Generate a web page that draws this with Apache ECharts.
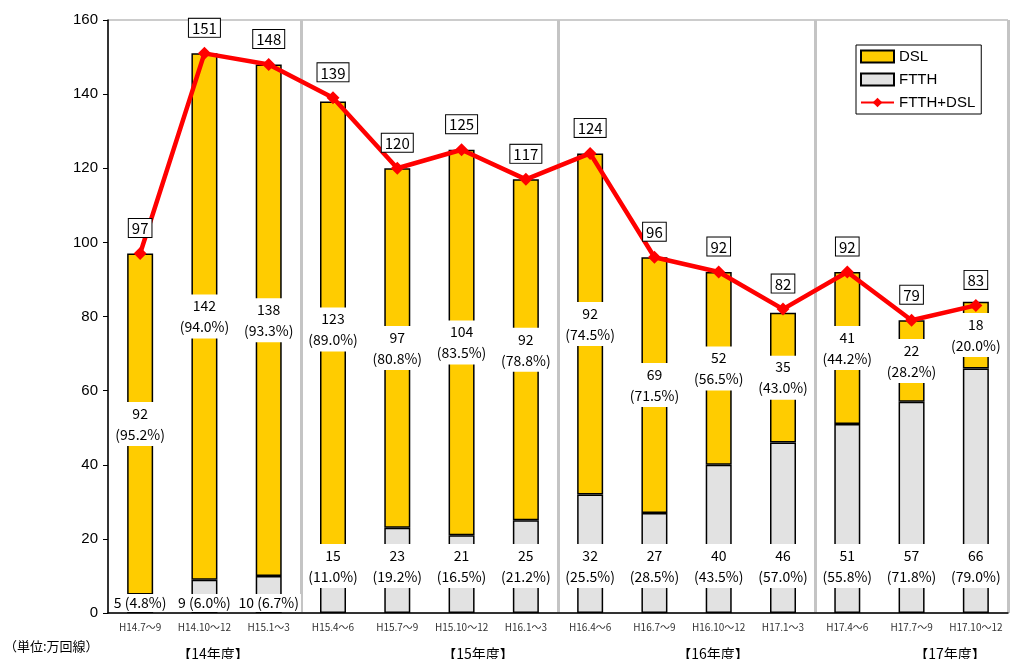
<!DOCTYPE html>
<html><head><meta charset="utf-8">
<script src="https://cdn.jsdelivr.net/npm/echarts@6/dist/echarts.min.js"></script>
<style>html,body{margin:0;padding:0;background:#fff}#c{width:1010px;height:659px}</style>
</head><body><div id="c"></div>
<script>
const categories = ['H14.7～9','H14.10～12','H15.1～3','H15.4～6','H15.7～9','H15.10～12','H16.1～3','H16.4～6','H16.7～9','H16.10～12','H17.1～3','H17.4～6','H17.7～9','H17.10～12'];
const ftth = [5,9,10,15,23,21,25,32,27,40,46,51,57,66];
const ftthPct = ['4.8','6.0','6.7','11.0','19.2','16.5','21.2','25.5','28.5','43.5','57.0','55.8','71.8','79.0'];
const dsl = [92,142,138,123,97,104,92,92,69,52,35,41,22,18];
const dslPct = ['95.2','94.0','93.3','89.0','80.8','83.5','78.8','74.5','71.5','56.5','43.0','44.2','28.2','20.0'];
const total = [97,151,148,139,120,125,117,124,96,92,82,92,79,83];
const yTicks = [0,20,40,60,80,100,120,140,160];
const fiscalYears = ['【14年度】','【15年度】','【16年度】','【17年度】'];
const unitNote = '（単位:万回線）';
const separatorBefore = [3,7,11];

const JP = '"Noto Sans CJK JP", sans-serif';
const chart = echarts.init(document.getElementById('c'));
const ftthData = ftth.map((v,i)=>{
  const single = v <= 12;
  return {value: v, label: single ? {position:'insideBottom', distance: 1, lineHeight: 16} : {position:'insideBottom', distance: 25}};
});
chart.setOption({
  animation:false,
  grid:{left:108,right:2,top:20,bottom:46,show:true,borderColor:'#999',borderWidth:1},
  legend:{
    orient:'vertical', left:856, top:45, itemWidth:33, itemHeight:12, itemGap:8,
    backgroundColor:'#fff', borderColor:'#000', borderWidth:1, padding:[4,6,4,4],
    textStyle:{fontFamily:'"Liberation Sans", Arial, sans-serif', fontSize:15, color:'#000'},
    data:[{name:'DSL',icon:'rect'},{name:'FTTH',icon:'rect'},{name:'FTTH+DSL'}]
  },
  xAxis:{
    type:'category', data:categories,
    axisLine:{lineStyle:{color:'#000',width:1.5}},
    axisTick:{inside:true,length:4,lineStyle:{color:'#000'}},
    axisLabel:{fontSize:10,color:'#333',margin:9,fontFamily:JP,interval:0},
    splitLine:{show:true,interval:(i)=>separatorBefore.includes(i),lineStyle:{color:'#c4c4c4',width:3}}
  },
  yAxis:{
    type:'value', min:0, max:160, interval:20,
    axisLine:{show:true,lineStyle:{color:'#000',width:1.5}},
    axisTick:{show:true,length:5,lineStyle:{color:'#000'}},
    axisLabel:{fontSize:15,color:'#000',margin:10,fontFamily:'"Liberation Sans", Arial, sans-serif',
      formatter:(v)=>yTicks.includes(v)?String(v):''},
    splitLine:{show:false}
  },
  series:[
    {name:'FTTH',type:'bar',stack:'a',barWidth:26,data:ftthData,
     itemStyle:{color:'#e2e2e2',borderColor:'#000',borderWidth:1.5},
     label:{show:true,color:'#000',fontFamily:JP,fontSize:14,lineHeight:21,backgroundColor:'#fff',padding:[1,2],
       formatter:(p)=>ftth[p.dataIndex] <= 12 ? ftth[p.dataIndex]+' ('+ftthPct[p.dataIndex]+'%)' : ftth[p.dataIndex]+'\n('+ftthPct[p.dataIndex]+'%)'}},
    {name:'DSL',type:'bar',stack:'a',barWidth:26,data:dsl,
     itemStyle:{color:'#ffcc00',borderColor:'#000',borderWidth:1.5},
     label:{show:true,position:'inside',color:'#000',fontFamily:JP,fontSize:14,lineHeight:21,backgroundColor:'#fff',padding:[1,2],
       formatter:(p)=>dsl[p.dataIndex]+'\n('+dslPct[p.dataIndex]+'%)'}},
    {name:'FTTH+DSL',type:'line',data:total,z:5,
     lineStyle:{color:'#ff0000',width:4.5},itemStyle:{color:'#ff0000'},
     symbol:'diamond',symbolSize:13,
     label:{show:true,position:'top',distance:10,color:'#000',fontFamily:JP,fontSize:15,
       backgroundColor:'#fff',borderColor:'#000',borderWidth:1,padding:[2,3,1,3]}}
  ],
  graphic:[
    {type:'text',left:4,top:640,style:{text:unitNote,font:'13px "Noto Sans CJK JP"',fill:'#000'}},
    {type:'text',x:213,y:654,style:{text:fiscalYears[0],font:'14px "Noto Sans CJK JP"',fill:'#000',textAlign:'center',textVerticalAlign:'middle'}},
    {type:'text',x:478,y:654,style:{text:fiscalYears[1],font:'14px "Noto Sans CJK JP"',fill:'#000',textAlign:'center',textVerticalAlign:'middle'}},
    {type:'text',x:713,y:654,style:{text:fiscalYears[2],font:'14px "Noto Sans CJK JP"',fill:'#000',textAlign:'center',textVerticalAlign:'middle'}},
    {type:'text',x:950,y:654,style:{text:fiscalYears[3],font:'14px "Noto Sans CJK JP"',fill:'#000',textAlign:'center',textVerticalAlign:'middle'}}
  ]
});
</script></body></html>
